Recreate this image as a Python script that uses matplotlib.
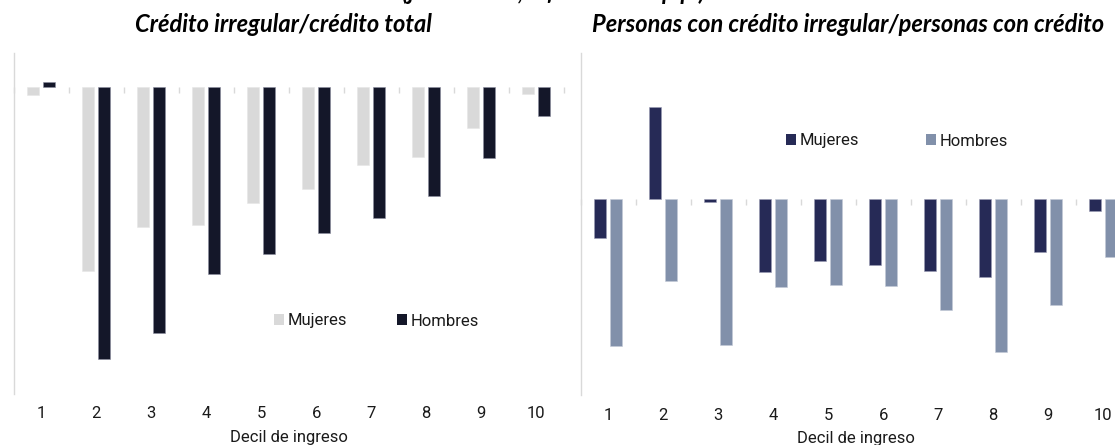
import matplotlib
matplotlib.use("Agg")
import matplotlib.pyplot as plt
from matplotlib.patches import Patch
import numpy as np

# ---- data (diferencia, p.p.) ----
deciles = [1, 2, 3, 4, 5, 6, 7, 8, 9, 10]
tick_labels = ["1", "2", "3", "4", "5", "6", "7", "8", "9", "10"]

# Panel 1: Crédito irregular / crédito total
credito_mujeres = [-0.08, -1.84, -1.40, -1.38, -1.16, -1.02, -0.78, -0.70, -0.41, -0.07]
credito_hombres = [0.05, -2.72, -2.46, -1.87, -1.67, -1.46, -1.31, -1.09, -0.71, -0.29]

# Panel 2: Personas con crédito irregular / personas con crédito
personas_mujeres = [-0.39, 0.92, -0.03, -0.73, -0.62, -0.66, -0.72, -0.78, -0.53, -0.12]
personas_hombres = [-1.47, -0.82, -1.46, -0.88, -0.86, -0.87, -1.11, -1.53, -1.06, -0.58]

titulo_general = "(junio 2018, diferencia en p.p.)"
titulo_1 = "Crédito irregular/crédito total"
titulo_2 = "Personas con crédito irregular/personas con crédito"
xlabel = "Decil de ingreso"

# ---- styling ----
W, H = 1115, 445
fig = plt.figure(figsize=(W / 100, H / 100), dpi=100)
tick_font = "Roboto"
title_font = "Lato"
axis_grey = "#d9d9d9"

def frac_box(x0, y0, x1, y1):
    return [x0 / W, 1 - y1 / H, (x1 - x0) / W, (y1 - y0) / H]

ax1 = fig.add_axes(frac_box(13.7, 52.7, 563.7, 394))
ax2 = fig.add_axes(frac_box(580.7, 53, 1130.7, 395))

bw = 0.22
off = 0.143
x = np.array(deciles, dtype=float)

def style_axis(ax, ylim):
    ax.set_xlim(0.5, 10.5)
    ax.set_ylim(*ylim)
    for s in ["top", "right", "bottom"]:
        ax.spines[s].set_visible(False)
    ax.spines["left"].set_color(axis_grey)
    ax.spines["left"].set_linewidth(1.0)
    ax.set_yticks([])
    ax.set_xticks(x)
    ax.set_xticklabels(tick_labels, fontfamily=tick_font, fontsize=12, color="#1a1a1a")
    ax.tick_params(axis="x", length=0, pad=9)
    ax.set_xlabel(xlabel, fontfamily=tick_font, fontsize=12, color="#1a1a1a", labelpad=6)
    # zero axis with category boundary ticks
    zero_frac = (0 - ylim[0]) / (ylim[1] - ylim[0])
    sec = ax.secondary_xaxis(zero_frac)
    sec.set_xticks(np.arange(0.5, 11.0, 1.0))
    sec.set_xticklabels([])
    sec.tick_params(axis="x", direction="in", length=4, width=1, color=axis_grey)
    sec.spines["bottom"].set_color(axis_grey)
    sec.spines["bottom"].set_linewidth(1.2)
    for s in ["top", "left", "right"]:
        if s in sec.spines:
            sec.spines[s].set_visible(False)
    ax.set_zorder(1)

# Panel 1
c1m, c1h = "#d9d9d9", "#141729"
ax1.bar(x - off, credito_mujeres, bw, color=c1m, edgecolor="#e6e6e6", linewidth=0.4, zorder=3)
ax1.bar(x + off, credito_hombres, bw, color=c1h, edgecolor="#8c8ea0", linewidth=0.4, zorder=3)
style_axis(ax1, (-3.073, 0.34))

# Panel 2
c2m, c2h = "#262a56", "#8190aa"
ax2.bar(x - off, personas_mujeres, bw, color=c2m, edgecolor="#9a9cb4", linewidth=0.4, zorder=3)
ax2.bar(x + off, personas_hombres, bw, color=c2h, edgecolor="#c4cad6", linewidth=0.4, zorder=3)
style_axis(ax2, (-1.957, 1.463))

leg_kw = dict(ncol=2, frameon=False, handlelength=0.6, handleheight=0.6,
              handletextpad=0.2, borderpad=0,
              prop={"family": tick_font, "size": 12}, loc="center")
l1 = fig.legend(handles=[Patch(facecolor=c1m, label="Mujeres"),
                         Patch(facecolor=c1h, label="Hombres")],
                bbox_to_anchor=(376.5 / W, 1 - 321 / H), columnspacing=3.0, **leg_kw)
l2 = fig.legend(handles=[Patch(facecolor=c2m, label="Mujeres"),
                         Patch(facecolor=c2h, label="Hombres")],
                bbox_to_anchor=(897 / W, 1 - 141 / H), columnspacing=4.0, **leg_kw)
for leg in (l1, l2):
    for t in leg.get_texts():
        t.set_color("#1a1a1a")

# Titles
fig.text(554 / W, 1.0, titulo_general, ha="center", va="baseline",
         fontfamily=title_font, fontweight="bold", fontstyle="italic", fontsize=17)
fig.text(283 / W, 1 - 32 / H, titulo_1, ha="center", va="baseline",
         fontfamily=title_font, fontweight="bold", fontstyle="italic", fontsize=17)
fig.text(848 / W, 1 - 32 / H, titulo_2, ha="center", va="baseline",
         fontfamily=title_font, fontweight="bold", fontstyle="italic", fontsize=17)

fig.savefig("out.png", dpi=100)
